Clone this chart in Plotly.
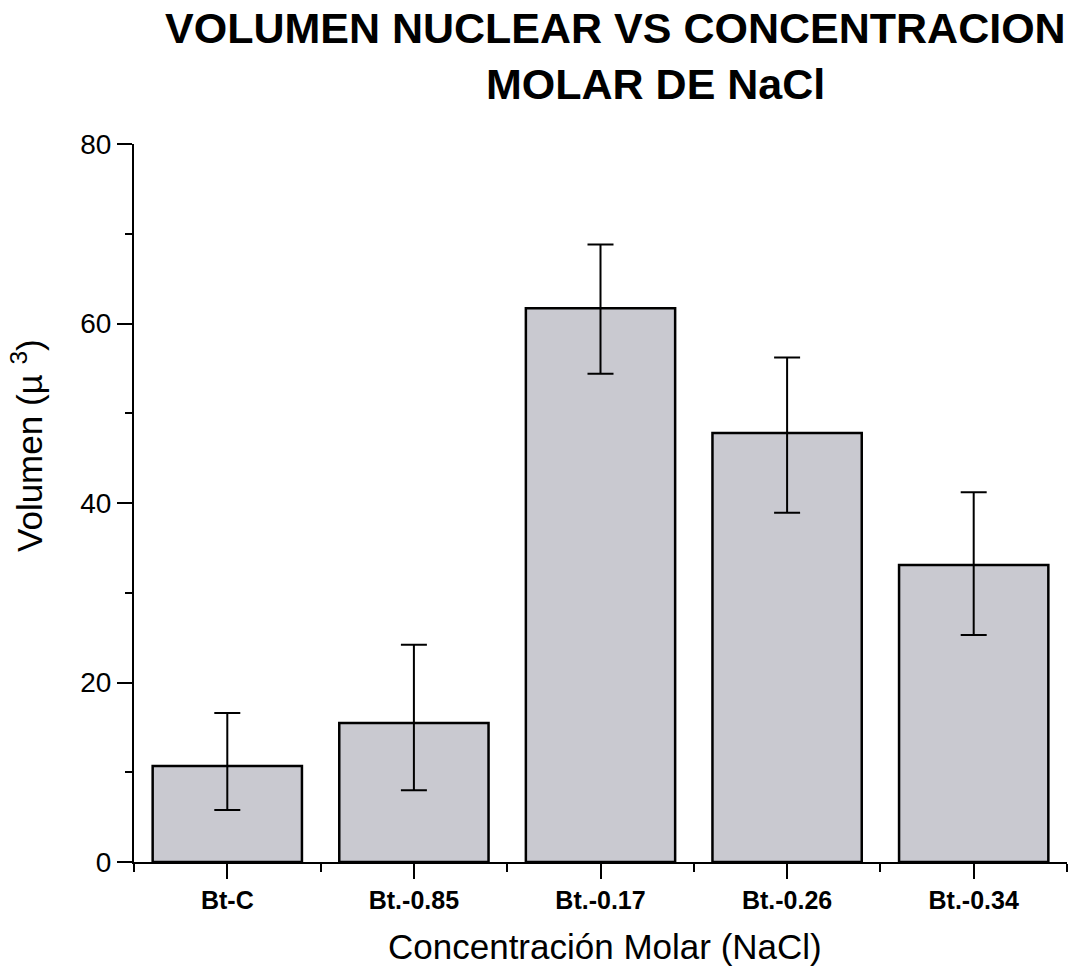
import plotly.graph_objects as go

categories = ["Bt-C", "Bt.-0.85", "Bt.-0.17", "Bt.-0.26", "Bt.-0.34"]
volumen = [10.7, 15.5, 61.7, 47.8, 33.1]
err_plus = [5.9, 8.7, 7.1, 8.4, 8.1]
err_minus = [4.9, 7.5, 7.3, 8.9, 7.8]
y_ticks = [0, 20, 40, 60, 80]

positions = list(range(len(categories)))
FONT = "Liberation Sans, Arial, sans-serif"

W, H = 1074, 970
L, R, T, B = 134, 7, 144, 108
pw, ph = W - L - R, H - T - B

def px(x):
    return (x - L) / pw

def py(y):
    return (H - B - y) / ph

fig = go.Figure()
fig.add_trace(go.Bar(
    x=positions,
    y=volumen,
    width=0.8,
    marker=dict(color="#c9c9d0", line=dict(color="black", width=2.5)),
    error_y=dict(type="data", symmetric=False, array=err_plus, arrayminus=err_minus,
                 color="black", thickness=2, width=13),
    showlegend=False,
))

fig.update_layout(
    width=W, height=H,
    margin=dict(l=L, r=R, t=T, b=B),
    plot_bgcolor="white", paper_bgcolor="white",
    font=dict(family=FONT, color="black"),
    xaxis=dict(
        range=[-0.5, 4.5], tickmode="array", tickvals=positions, ticktext=categories,
        ticks="outside", ticklen=15, tickwidth=2, tickcolor="black",
        showline=True, linewidth=2, linecolor="black", showgrid=False, zeroline=False,
        tickfont=dict(family=FONT, size=25, color="black", weight="bold"),
        minor=dict(tickmode="array", tickvals=[-0.5, 0.5, 1.5, 2.5, 3.5, 4.5],
                   ticks="outside", ticklen=8, tickwidth=2, tickcolor="black"),
    ),
    yaxis=dict(
        range=[0, 80], tickmode="array", tickvals=y_ticks,
        ticks="outside", ticklen=15, tickwidth=2, tickcolor="black",
        showline=True, linewidth=2, linecolor="black", showgrid=False, zeroline=False,
        tickfont=dict(family=FONT, size=28, color="black"),
        minor=dict(dtick=10, ticks="outside", ticklen=7, tickwidth=2, tickcolor="black"),
    ),
    annotations=[
        dict(text="<b>VOLUMEN NUCLEAR VS CONCENTRACION</b>", xref="paper", yref="paper",
             x=px(615), y=py(28), xanchor="center", yanchor="middle", showarrow=False,
             font=dict(family=FONT, size=43, color="black")),
        dict(text="<b>MOLAR DE NaCl</b>", xref="paper", yref="paper",
             x=px(655), y=py(84), xanchor="center", yanchor="middle", showarrow=False,
             font=dict(family=FONT, size=43, color="black")),
        dict(text="Concentración Molar (NaCl)", xref="paper", yref="paper",
             x=px(604.5), y=py(946), xanchor="center", yanchor="middle", showarrow=False,
             font=dict(family=FONT, size=35, color="black")),
        dict(text="Volumen (µ <sup>3</sup>)", xref="paper", yref="paper",
             x=px(27), y=py(446), xanchor="center", yanchor="middle", showarrow=False,
             textangle=-90, font=dict(family=FONT, size=35, color="black")),
    ],
)

fig.write_html("out.html")
